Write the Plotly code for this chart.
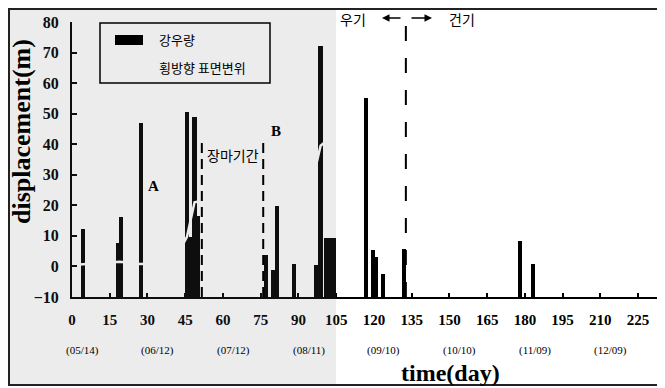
import plotly.graph_objects as go

# ---- data ----
rain_day = [4.3, 18.2, 19.6, 27.3, 45.7, 47.3, 48.7, 50.0, 77.0, 80.0, 81.5, 88.3,
            96.9, 98.8, 101.0, 102.5, 104.0, 116.8, 119.6, 120.7, 123.5, 131.9, 178.0, 183.2]
rain_mm = [74, 59, 87, 190, 202, 65, 196, 88, 46, 29, 99, 36,
           35, 274, 64, 64, 64, 217, 51, 44, 25, 52, 61, 36]

disp_day = [0, 10, 19, 27, 40, 45.7, 48.7, 60, 75, 90, 97, 98.8, 101]
disp_m = [0.5, 1.0, 1.5, 0.8, 1.0, 9.7, 21, 23, 25, 28, 33, 39.5, 41]

x_ticks = [0, 15, 30, 45, 60, 75, 90, 105, 120, 135, 150, 165, 180, 195, 210, 225]
date_pos = [4, 34, 64, 94, 124, 154, 184, 214]
date_labels = ["(05/14)", "(06/12)", "(07/12)", "(08/11)", "(09/10)", "(10/10)", "(11/09)", "(12/09)"]

series_names = ["강우량", "횡방향 표면변위"]

# ---- layout geometry (figure pixels; the page adds an 8px body margin) ----
OFF = 8
W, H = 657, 380
L, R, T, B = 64, 3, 14, 91
PW, PH = W - L - R, H - T - B


def px(x):  # screenshot x -> paper x
    return (x - OFF - L) / PW


def py(y):  # screenshot y -> paper y
    return (H - B - (y - OFF)) / PH


SERIF = "Liberation Serif"
CJK = "Noto Sans CJK KR"

fig = go.Figure()
fig.add_trace(go.Bar(x=rain_day, y=rain_mm, width=1.7, marker=dict(color="black", line=dict(width=0)),
                     name=series_names[0], yaxis="y", showlegend=False))
fig.add_trace(go.Scatter(x=disp_day, y=disp_m, mode="lines", line=dict(color="white", width=2.5),
                         name=series_names[1], yaxis="y2", showlegend=False))

shapes = [
    # scan-grey left part of the page (overlay, like scanner noise)
    dict(type="rect", xref="paper", yref="paper", x0=px(8), x1=px(336), y0=py(386), y1=py(8),
         fillcolor="rgba(110,110,110,0.13)", line=dict(width=0), layer="above"),
    # outer frame
    dict(type="rect", xref="paper", yref="paper", x0=px(9), x1=px(680), y0=py(385), y1=py(9),
         line=dict(color="#222", width=2), fillcolor="rgba(0,0,0,0)"),
    # legend box
    dict(type="rect", xref="paper", yref="paper", x0=px(100), x1=px(270), y0=py(83), y1=py(23),
         line=dict(color="black", width=1.5), fillcolor="rgba(0,0,0,0)"),
    dict(type="rect", xref="paper", yref="paper", x0=px(115), x1=px(143), y0=py(45), y1=py(35),
         line=dict(width=0), fillcolor="black"),
    # rainy-season (장마기간) dashed lines
    dict(type="line", xref="x", yref="y2", x0=51.6, x1=51.6, y0=-10, y1=42.3,
         line=dict(color="black", width=2, dash="10px,6px")),
    dict(type="line", xref="x", yref="y2", x0=76.0, x1=76.0, y0=-10, y1=42.3,
         line=dict(color="black", width=2, dash="10px,6px")),
    # wet / dry season divider
    dict(type="line", xref="x", yref="y2", x0=132.7, x1=132.7, y0=-10, y1=80,
         line=dict(color="black", width=2, dash="15px,17px")),
]


def ann(**kw):
    kw.setdefault("xanchor", "center")
    kw.setdefault("yanchor", "middle")
    kw.setdefault("showarrow", False)
    return dict(**kw)


annotations = [
    ann(text="displacement(m)", xref="paper", yref="paper", x=px(21), y=py(132), textangle=-90,
        font=dict(family=SERIF, size=26, color="black", weight="bold")),
    ann(text="time(day)", xref="paper", yref="paper", x=px(450), y=py(373),
        font=dict(family=SERIF, size=24, color="black", weight="bold")),
    ann(text="A", xref="x", yref="y2", x=32.2, y=26.3,
        font=dict(family=SERIF, size=15, color="black", weight="bold")),
    ann(text="B", xref="x", yref="y2", x=81.1, y=44.3,
        font=dict(family=SERIF, size=15, color="black", weight="bold")),
    ann(text="장마기간", xref="x", yref="y2", x=63.8, y=36.5,
        font=dict(family=CJK, size=14, color="black")),
    ann(text=series_names[0], xref="paper", yref="paper", x=px(157), y=py(40), xanchor="left",
        font=dict(family=CJK, size=13, color="black")),
    ann(text=series_names[1], xref="paper", yref="paper", x=px(157), y=py(68), xanchor="left",
        font=dict(family=CJK, size=13, color="black")),
    ann(text="우기", xref="paper", yref="paper", x=px(353), y=py(19),
        font=dict(family=CJK, size=14, color="black")),
    ann(text="건기", xref="paper", yref="paper", x=px(462), y=py(19),
        font=dict(family=CJK, size=14, color="black")),
    ann(text="", xref="paper", yref="paper", x=px(382), y=py(18), ax=20, ay=0,
        showarrow=True, arrowhead=2, arrowsize=1, arrowwidth=1.5, arrowcolor="black"),
    ann(text="", xref="paper", yref="paper", x=px(432), y=py(18), ax=-22, ay=0,
        showarrow=True, arrowhead=2, arrowsize=1, arrowwidth=1.5, arrowcolor="black"),
]
for d, lab in zip(date_pos, date_labels):
    annotations.append(ann(text=lab, xref="x", yref="paper", x=d, y=py(350),
                           font=dict(family=SERIF, size=11, color="black")))

fig.update_layout(
    width=W, height=H,
    margin=dict(l=L, r=R, t=T, b=B, pad=0),
    paper_bgcolor="white", plot_bgcolor="rgba(0,0,0,0)",
    showlegend=False,
    bargap=0,
    xaxis=dict(range=[0, 234.5], tickvals=x_ticks, ticktext=[str(v) for v in x_ticks],
               ticks="inside", ticklen=4, tickwidth=2, tickcolor="black",
               showline=True, linewidth=2, linecolor="black", showgrid=False, zeroline=False,
               ticklabelstandoff=8,
               tickfont=dict(family=SERIF, size=15, color="black", weight="bold")),
    yaxis=dict(range=[0, 300], dtick=50, side="right", ticks="inside", ticklen=5, tickwidth=2,
               tickcolor="black", showticklabels=False, showline=True, linewidth=2,
               linecolor="black", showgrid=False, zeroline=False),
    yaxis2=dict(range=[-10, 80], dtick=10, side="left", overlaying="y", ticks="inside",
                ticklen=5, tickwidth=2, tickcolor="black", showline=True, linewidth=2,
                linecolor="black", showgrid=False, zeroline=False, ticklabelstandoff=8,
                tickfont=dict(family=SERIF, size=16, color="black", weight="bold")),
    shapes=shapes,
    annotations=annotations,
)

fig.write_html("out.html")
